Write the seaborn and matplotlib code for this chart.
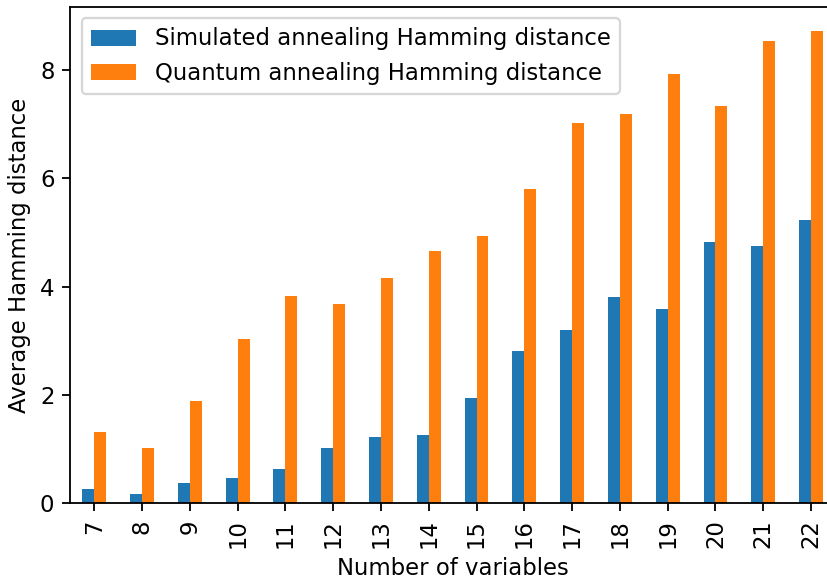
import matplotlib
matplotlib.use("Agg")
import matplotlib.pyplot as plt
import seaborn as sns
import pandas as pd

variables = ["7", "8", "9", "10", "11", "12", "13", "14", "15", "16", "17", "18", "19", "20", "21", "22"]
sa_values = [0.26, 0.18, 0.37, 0.47, 0.63, 1.02, 1.22, 1.26, 1.94, 2.81, 3.21, 3.81, 3.58, 4.82, 4.76, 5.24]
qa_values = [1.32, 1.03, 1.89, 3.03, 3.83, 3.69, 4.17, 4.66, 4.93, 5.80, 7.03, 7.19, 7.93, 7.33, 8.53, 8.73]
series_names = ["Simulated annealing Hamming distance", "Quantum annealing Hamming distance"]

df = pd.DataFrame({
    "variables": variables * 2,
    "value": sa_values + qa_values,
    "series": [series_names[0]] * len(variables) + [series_names[1]] * len(variables),
})

DPI = 164
fig = plt.figure(figsize=(827 / DPI, 581 / DPI), dpi=DPI)
W, H = 827, 581
left, right, top, bottom = 70.4, 834.9, 7.0, 503.3
ax = fig.add_axes([left / W, (H - bottom) / H, (right - left) / W, (bottom - top) / H])

sns.barplot(data=df, x="variables", y="value", hue="series", order=variables,
            hue_order=series_names, palette=["#1f77b4", "#ff7f0e"], saturation=1,
            width=0.5, linewidth=0, errorbar=None, ax=ax)

ax.set_xlim(-0.5, len(variables) - 0.5)
ax.set_ylim(0, max(qa_values) * 1.05)
ax.set_yticks([0, 2, 4, 6, 8])
ax.tick_params(axis="x", labelrotation=90)
ax.spines["right"].set_visible(False)
ax.set_xlabel("Number of variables")
ax.set_ylabel("Average Hamming distance")
ax.legend(title=None, loc="upper left")

fig.savefig("out.png", dpi=DPI)
